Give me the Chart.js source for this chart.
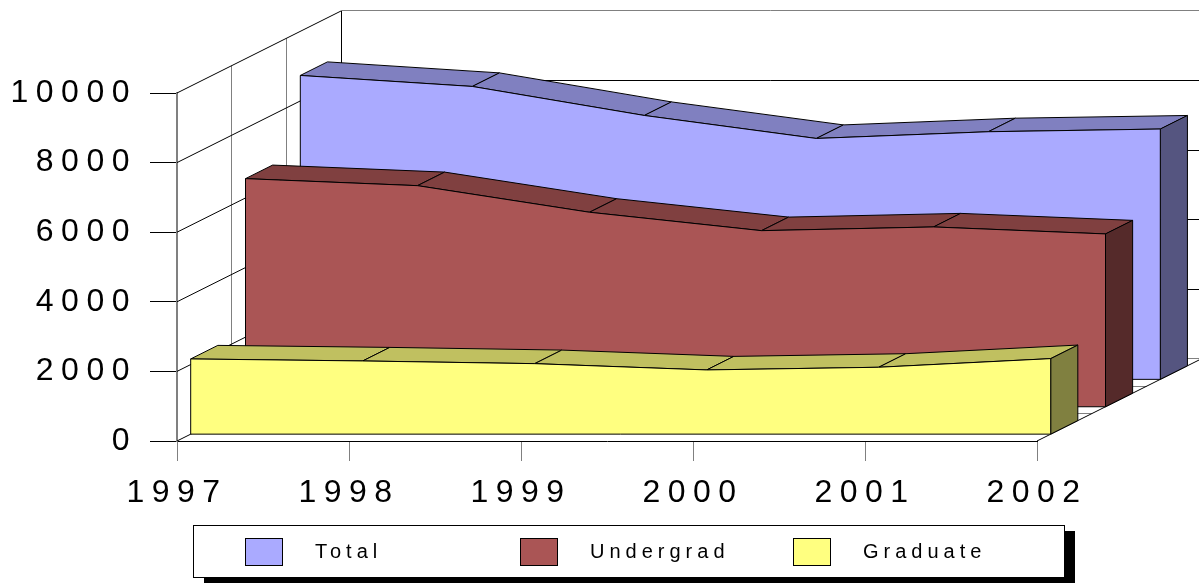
<!DOCTYPE html>
<html><head><meta charset="utf-8">
<script src="https://cdn.jsdelivr.net/npm/chart.js@4.4.0/dist/chart.umd.min.js"></script>
<style>html,body{margin:0;padding:0;background:#fff;overflow:hidden}canvas{display:block}</style>
</head><body>
<canvas id="c" width="1199" height="584"></canvas>
<script>
// ---- data ----
const years = ['1997', '1998', '1999', '2000', '2001', '2002'];
const totalValues = [8733, 8417, 7583, 6922, 7115, 7193];
const undergradValues = [6555, 6353, 5589, 5060, 5167, 4966];
const graduateValues = [2161, 2103, 2026, 1845, 1922, 2170];
const seriesNames = ['Total', 'Undergrad', 'Graduate'];
const yMin = 0, yMax = 10000, yStep = 2000;

// ---- style ----
const FONT = '"Liberation Sans", Arial, sans-serif';
const palette = {
  Total:     {front: '#AAAAFF', top: '#8080C0', side: '#555580'},
  Undergrad: {front: '#AA5555', top: '#804040', side: '#552A2A'},
  Graduate:  {front: '#FFFF80', top: '#C0C060', side: '#808040'}
};
const SDX = 54.8, SDY = -27.4, NSLOTS = 3;
const BAND_FRONT = 0.25, BAND_BACK = 0.745;

const seriesValues = [totalValues, undergradValues, graduateValues];
const slots = [2, 1, 0];

const datasets = seriesNames.map((name, k) => ({
  label: name,
  data: seriesValues[k],
  slot: slots[k],
  backgroundColor: palette[name].front,
  borderColor: '#000',
  showLine: false,
  pointRadius: 0,
  pointHoverRadius: 0
}));

function crisp(v) { return Math.round(v - 0.5) + 0.5; }

const walls3d = {
  id: 'walls3d',
  beforeDraw(chart) {
    const ctx = chart.ctx;
    ctx.save();
    ctx.fillStyle = '#fff';
    ctx.fillRect(0, 0, chart.width, chart.height);
    ctx.restore();
    ctx.letterSpacing = '7.5px';
  },
  beforeDatasetsDraw(chart) {
    const ctx = chart.ctx;
    const xs = chart.scales.x, ys = chart.scales.y;
    const n = chart.data.labels.length;
    const x0 = xs.getPixelForValue(0), x1 = xs.getPixelForValue(n - 1);
    const yb = ys.getPixelForValue(yMin), yt = ys.getPixelForValue(yMax);
    const D = NSLOTS;
    ctx.save();
    ctx.letterSpacing = '0px';
    function line(a, b, color, w) {
      ctx.beginPath(); ctx.moveTo(a[0], a[1]); ctx.lineTo(b[0], b[1]);
      ctx.strokeStyle = color; ctx.lineWidth = w; ctx.stroke();
    }
    // left wall slot dividers
    for (let d = 1; d <= D; d++) {
      const x = crisp(x0 + d * SDX);
      line([x, yb + d * SDY], [x, yt + d * SDY], d === D ? '#000' : '#808080', 1);
    }
    // left wall gridlines
    ys.ticks.forEach(t => {
      const y = ys.getPixelForValue(t.value);
      line([x0, y], [x0 + D * SDX, y + D * SDY], '#000', 1);
    });
    // back wall gridlines
    ys.ticks.forEach(t => {
      const y = crisp(ys.getPixelForValue(t.value) + D * SDY);
      const c = (t.value === yMax || t.value === yMin) ? '#808080' : '#000';
      line([x0 + D * SDX, y], [x1 + D * SDX + 2, y], c, 1);
    });
    // floor slot dividers
    for (let d = 1; d < D; d++) {
      const y = crisp(yb + d * SDY);
      line([x0 + d * SDX, y], [x1 + d * SDX, y], '#808080', 1);
    }
    // floor right edge
    line([x1, yb], [x1 + D * SDX, yb + D * SDY], '#000', 1);

    // series, back to front
    const metas = chart.data.datasets.map((ds, i) => ({ds, i})).sort((a, b) => b.ds.slot - a.ds.slot);
    metas.forEach(({ds}) => {
      const col = palette[ds.label];
      const d0 = ds.slot + BAND_FRONT, d1 = ds.slot + BAND_BACK;
      const P = (i, v, d) => [xs.getPixelForValue(i) + d * SDX, ys.getPixelForValue(v) + d * SDY];
      const poly = (pts, fill) => {
        ctx.beginPath();
        pts.forEach((p, j) => j ? ctx.lineTo(p[0], p[1]) : ctx.moveTo(p[0], p[1]));
        ctx.closePath();
        ctx.fillStyle = fill; ctx.fill();
        ctx.strokeStyle = '#000'; ctx.lineWidth = 1; ctx.lineJoin = 'round'; ctx.stroke();
      };
      const v = ds.data;
      // top surfaces
      for (let i = 0; i < v.length - 1; i++) {
        poly([P(i, v[i], d0), P(i + 1, v[i + 1], d0), P(i + 1, v[i + 1], d1), P(i, v[i], d1)], col.top);
      }
      // right side
      const L = v.length - 1;
      poly([P(L, v[L], d0), P(L, v[L], d1), P(L, yMin, d1), P(L, yMin, d0)], col.side);
      // front face
      const front = [P(0, yMin, d0)];
      for (let i = 0; i < v.length; i++) front.push(P(i, v[i], d0));
      front.push(P(L, yMin, d0));
      poly(front, col.front);
    });
    ctx.restore();
  },
  afterDraw(chart) {
    const ctx = chart.ctx;
    ctx.save();
    ctx.letterSpacing = '0px';
    const bx = 193, by = 525, bw = 871, bh = 52;
    ctx.fillStyle = '#000';
    ctx.fillRect(bx + 11, by + 6, bw, bh);
    ctx.fillStyle = '#fff';
    ctx.fillRect(bx, by, bw, bh);
    ctx.strokeStyle = '#000'; ctx.lineWidth = 1;
    ctx.strokeRect(bx + 0.5, by + 0.5, bw, bh);
    const swX = [245, 520, 793];
    chart.data.datasets.forEach((ds, i) => {
      ctx.fillStyle = ds.backgroundColor;
      ctx.fillRect(swX[i], 538, 37, 27);
      ctx.strokeStyle = '#000';
      ctx.strokeRect(swX[i] + 0.5, 538.5, 37, 27);
      ctx.fillStyle = '#000';
      ctx.font = '20px ' + FONT;
      ctx.letterSpacing = '5px';
      ctx.textAlign = 'left';
      ctx.textBaseline = 'middle';
      ctx.fillText(ds.label, swX[i] + 70, 552);
    });
    ctx.restore();
  }
};

new Chart(document.getElementById('c'), {
  type: 'line',
  data: {labels: years, datasets},
  plugins: [walls3d],
  options: {
    responsive: false,
    animation: false,
    events: [],
    layout: {padding: {left: 0, top: 93, right: 162, bottom: 0}},
    plugins: {legend: {display: false}, tooltip: {enabled: false}},
    scales: {
      x: {
        type: 'category', offset: false,
        grid: {drawOnChartArea: false, drawTicks: true, tickLength: 20, color: '#808080', lineWidth: 1},
        border: {display: true, color: '#000', width: 1},
        ticks: {font: {family: FONT, size: 32}, color: '#000', padding: 13, maxRotation: 0, autoSkip: false},
        afterFit(s) { s.height = 143; }
      },
      y: {
        min: yMin, max: yMax,
        ticks: {stepSize: yStep, font: {family: FONT, size: 32}, color: '#000', padding: 13, callback: v => String(v)},
        grid: {drawOnChartArea: false, drawTicks: true, tickLength: 27, color: '#000', lineWidth: 1},
        border: {display: true, color: '#808080', width: 2},
        afterFit(s) { s.width = 177; }
      }
    }
  }
});
</script>
</body></html>
